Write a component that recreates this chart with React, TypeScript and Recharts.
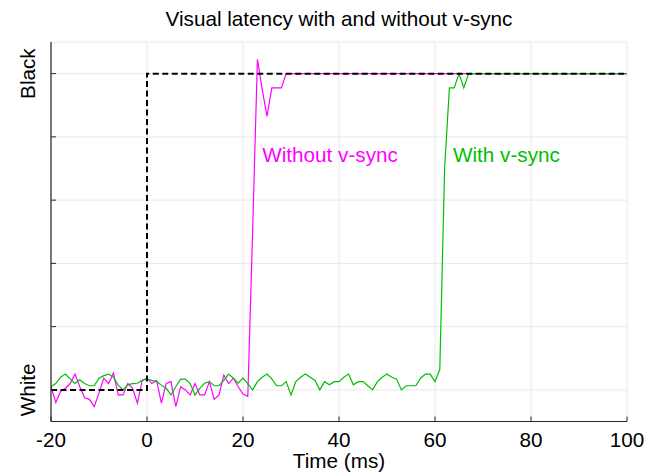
import React from 'react';
import { LineChart, Line, XAxis, YAxis, CartesianGrid, ReferenceDot } from 'recharts';

// Time samples (ms) for the noisy parts; each series ends with a hold at t = 100
const startTime = -20;
const magentaValues = [
  0.01, -0.04, -0.005, 0.005, 0.02, 0.05, 0.01, -0.025, -0.03, -0.053,
  -0.01, 0.037, 0.02, 0.053, -0.016, -0.016, 0.02, 0.005, -0.042, 0.03,
  0.037, 0.02, 0.03, -0.042, 0.02, 0.026, -0.053, 0.01, 0.0, -0.016,
  0.02, -0.016, -0.016, 0.026, -0.03, -0.016, 0.047, 0.02, 0.037, 0.01,
  -0.013, -0.02, 0.5, 1.045, 0.95, 0.865, 0.955, 0.955, 0.955, 1.0,
];
const greenValues = [
  0.01, 0.02, 0.04, 0.05, 0.035, 0.02, 0.032, 0.02, 0.013, 0.013,
  0.037, 0.045, 0.05, 0.04, 0.015, 0.0, 0.016, 0.02, 0.021, 0.03,
  0.034, 0.03, 0.026, 0.015, 0.005, -0.016, 0.01, 0.034, 0.034, 0.02,
  -0.016, 0.005, 0.021, 0.026, 0.013, 0.013, 0.03, 0.05, 0.037, 0.021,
  0.037, 0.02, 0.0, 0.026, 0.04, 0.05, 0.035, 0.013, 0.013, 0.026,
  -0.016, 0.026, 0.04, 0.05, 0.04, 0.03, 0.0, 0.026, 0.016, 0.026,
  0.026, 0.04, 0.05, 0.016, 0.026, 0.026, 0.013, 0.0, 0.026, 0.04,
  0.05, 0.04, 0.034, 0.0, 0.013, 0.013, 0.013, 0.037, 0.05, 0.05,
  0.026, 0.065, 0.7, 0.955, 0.955, 1.0, 0.955, 1.0,
];
const endTime = 100;
const endValue = 1.0;

const stimulusTimes = [-20, 0, 0, 100];
const stimulusValues = [0, 0, 1, 1];

const xTicks = [-20, 0, 20, 40, 60, 80, 100];
const yTicks = [0, 0.2, 0.4, 0.6, 0.8, 1];
const yTickLabels: Record<string, string> = { '0': 'White', '1': 'Black' };

const title = 'Visual latency with and without v-sync';
const xLabel = 'Time (ms)';
const withoutLabel = 'Without v-sync';
const withLabel = 'With v-sync';

const toSeries = (vals: number[]) => {
  const pts = vals.map((v, i) => ({ t: startTime + i, v }));
  pts.push({ t: endTime, v: endValue });
  return pts;
};
const magentaData = toSeries(magentaValues);
const greenData = toSeries(greenValues);
const stimulusData = stimulusTimes.map((t, i) => ({ t, v: stimulusValues[i] }));

const FONT = 'Liberation Sans, Arial, Helvetica, sans-serif';
const FS = 20.7;
const AX = '#262626';
const MAGENTA = '#ff00ff';
const GREEN = '#00bf00';

const BottomTick = (props: any) => {
  const { x, y, payload } = props;
  return (
    <g>
      <line x1={x} y1={y} x2={x} y2={y - 5} stroke={AX} strokeWidth={1} />
      <text x={x} y={y + 25.5} textAnchor="middle" fontSize={FS} fontFamily={FONT} fill="#000">
        {payload.value}
      </text>
    </g>
  );
};

const TopTick = (props: any) => {
  const { x, y } = props;
  return <line x1={x} y1={y} x2={x} y2={y + 5} stroke={AX} strokeWidth={1} />;
};

const LeftTick = (props: any) => {
  const { x, y, payload } = props;
  const label = yTickLabels[String(payload.value)];
  return (
    <g>
      <line x1={x} y1={y} x2={x + 5} y2={y} stroke={AX} strokeWidth={1} />
      {label ? (
        <text
          x={x - 16}
          y={y}
          transform={`rotate(-90, ${x - 16}, ${y})`}
          textAnchor="middle"
          fontSize={FS}
          fontFamily={FONT}
          fill="#000"
        >
          {label}
        </text>
      ) : null}
    </g>
  );
};

const RightTick = (props: any) => {
  const { x, y } = props;
  return <line x1={x} y1={y} x2={x - 5} y2={y} stroke={AX} strokeWidth={1} />;
};

const makeLabel = (text: string, color: string) => (props: any) => {
  const vb = props.viewBox || {};
  const cx = (vb.x ?? 0) + (vb.width ?? 0) / 2;
  const cy = (vb.y ?? 0) + (vb.height ?? 0) / 2;
  return (
    <text x={cx} y={cy} textAnchor="start" fontSize={FS} fontFamily={FONT} fill={color}>
      {text}
    </text>
  );
};

export default function App() {
  return (
    <div style={{ position: 'absolute', left: 0, top: 0, width: 662, height: 475, background: '#fff' }}>
      <LineChart
        width={662}
        height={475}
        margin={{ top: 42, right: 35, left: 0, bottom: 13.5 }}
      >
        <CartesianGrid stroke="#e8e8e8" strokeWidth={1} />
        <XAxis
          dataKey="t"
          type="number"
          domain={[-20, 100]}
          ticks={xTicks}
          allowDataOverflow
          height={40}
          tickSize={0}
          tickMargin={0}
          tickLine={false}
          axisLine={{ stroke: AX, strokeWidth: 1.2 }}
          tick={<BottomTick />}
          interval={0}
        />
        <XAxis
          xAxisId="top"
          orientation="top"
          dataKey="t"
          type="number"
          domain={[-20, 100]}
          ticks={xTicks}
          allowDataOverflow
          height={0}
          tickSize={0}
          tickMargin={0}
          tickLine={false}
          axisLine={{ stroke: AX, strokeWidth: 1.2 }}
          tick={<TopTick />}
          interval={0}
        />
        <YAxis
          type="number"
          domain={[-0.1, 1.1]}
          ticks={yTicks}
          allowDataOverflow
          width={51}
          tickSize={0}
          tickMargin={0}
          tickLine={false}
          axisLine={{ stroke: AX, strokeWidth: 1.2 }}
          tick={<LeftTick />}
          interval={0}
        />
        <YAxis
          yAxisId="right"
          orientation="right"
          type="number"
          domain={[-0.1, 1.1]}
          ticks={yTicks}
          allowDataOverflow
          width={0}
          tickSize={0}
          tickMargin={0}
          tickLine={false}
          axisLine={{ stroke: AX, strokeWidth: 1.2 }}
          tick={<RightTick />}
          interval={0}
        />
        <Line
          data={magentaData}
          dataKey="v"
          type="linear"
          stroke={MAGENTA}
          strokeWidth={1.2}
          dot={false}
          isAnimationActive={false}
        />
        <Line
          data={greenData}
          dataKey="v"
          type="linear"
          stroke={GREEN}
          strokeWidth={1.2}
          dot={false}
          isAnimationActive={false}
        />
        <Line
          data={stimulusData}
          dataKey="v"
          type="linear"
          stroke="#000"
          strokeWidth={2}
          strokeDasharray="6 3.5"
          dot={false}
          isAnimationActive={false}
        />
        <ReferenceDot
          x={24}
          y={0.722}
          r={1}
          fill="none"
          stroke="none"
          label={makeLabel(withoutLabel, MAGENTA)}
        />
        <ReferenceDot
          x={63.75}
          y={0.722}
          r={1}
          fill="none"
          stroke="none"
          label={makeLabel(withLabel, GREEN)}
        />
        <text x={339} y={26} textAnchor="middle" fontSize={FS} fontFamily={FONT} fill="#000">
          {title}
        </text>
        <text x={339} y={468} textAnchor="middle" fontSize={FS} fontFamily={FONT} fill="#000">
          {xLabel}
        </text>
      </LineChart>
    </div>
  );
}
